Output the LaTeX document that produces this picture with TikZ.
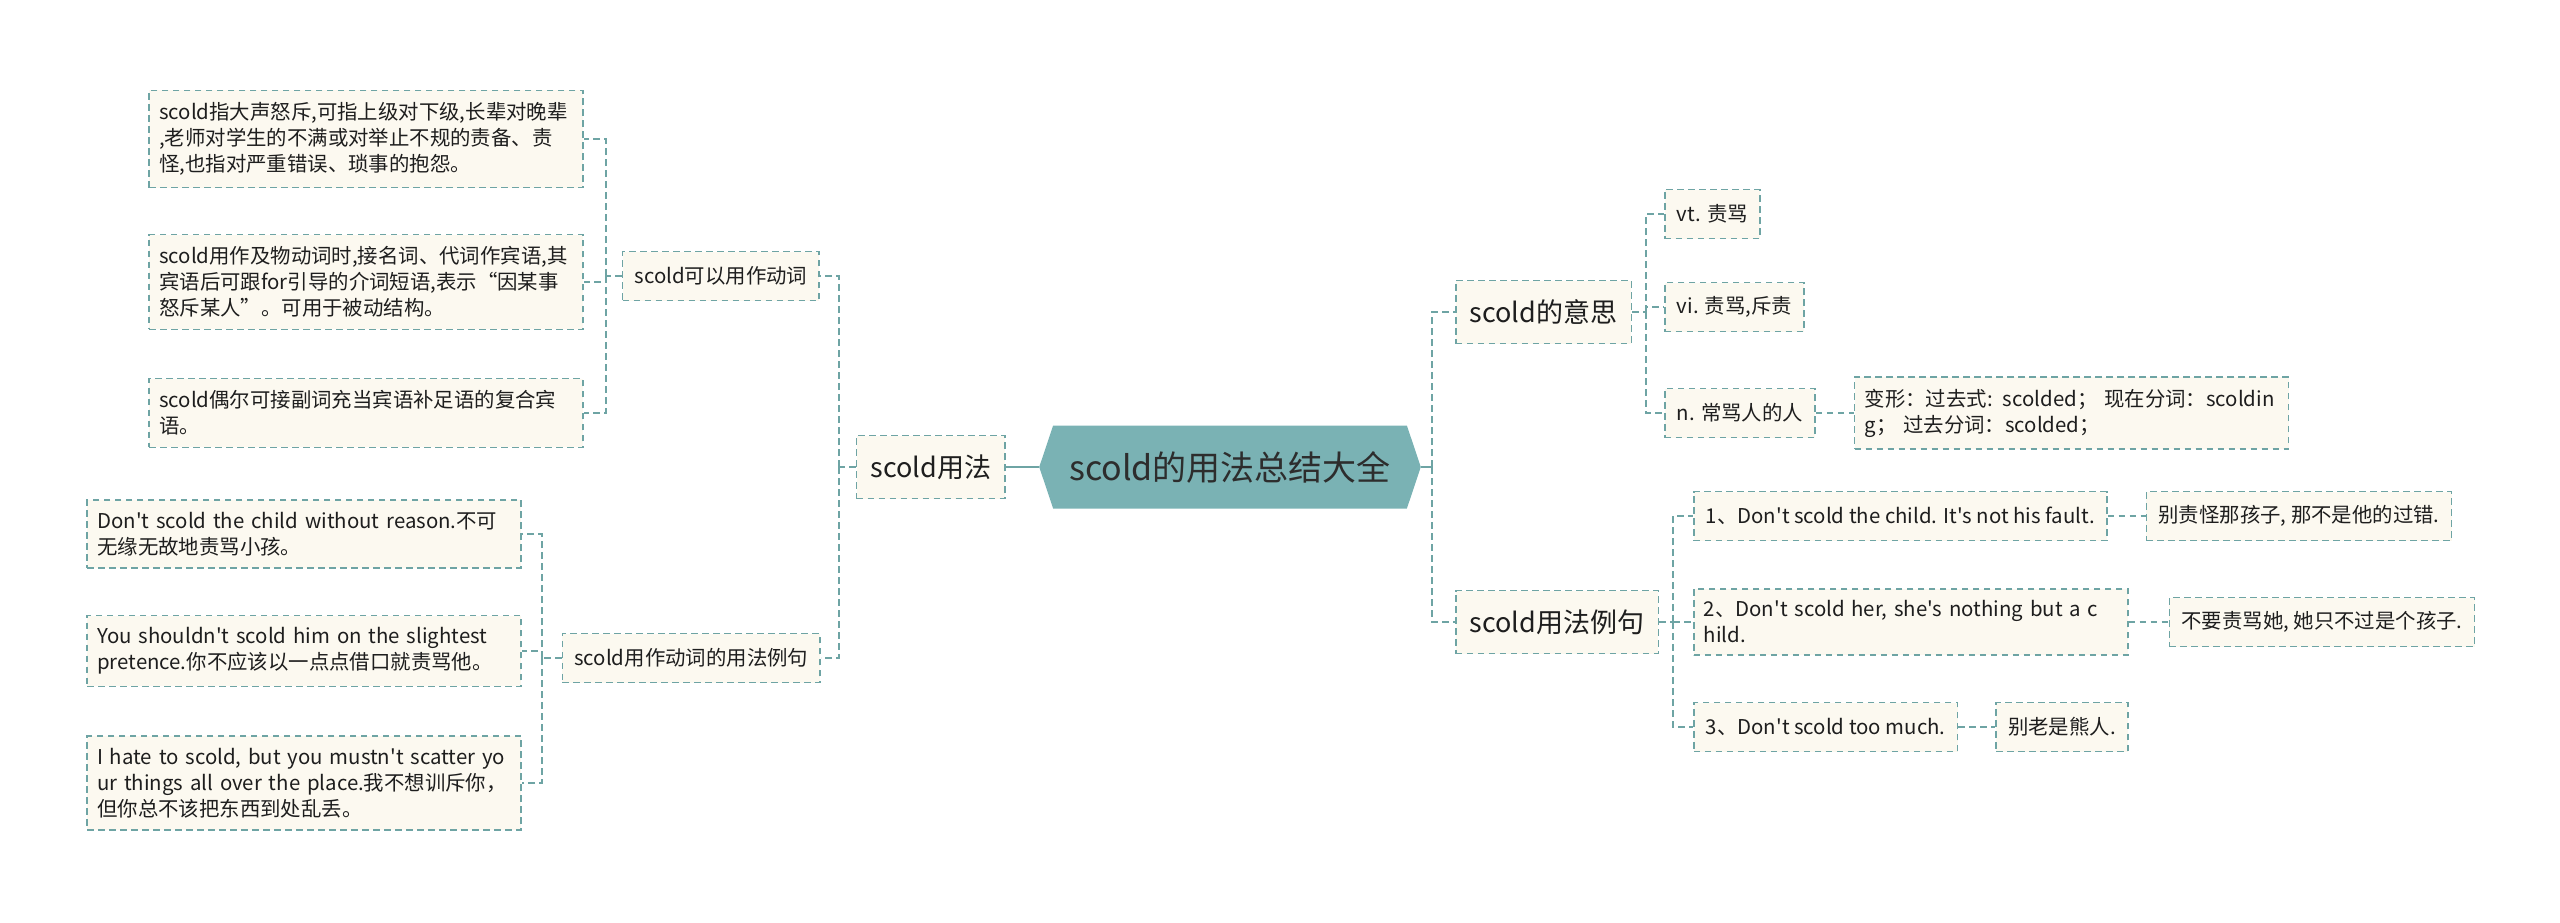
\documentclass[tikz,border=0pt]{standalone}
\usepackage{fontspec}
\setmainfont{Noto Sans CJK SC}[Ligatures=TeXOff]
\usepackage{tikz}
\usetikzlibrary{positioning,shapes.symbols}
\definecolor{mapline}{RGB}{110,164,164}
\definecolor{mapfill}{RGB}{252,249,240}
\definecolor{maproot}{RGB}{122,178,180}
\definecolor{roottext}{RGB}{45,45,45}
\definecolor{maptext}{RGB}{30,30,30}

\begin{document}
\begin{tikzpicture}[
    x=0.5pt, y=-0.5pt,
    font=\fontsize{10.2}{13}\selectfont,
    box/.style={draw=mapline, fill=mapfill, line width=0.8pt, dash pattern=on 3.3pt off 2.2pt, inner xsep=6pt, inner ysep=6pt, minimum height=24.5pt, text=maptext},
    rootbox/.style={signal, signal to=west and east, signal pointer angle=143, fill=maproot, text=roottext, font=\fontsize{17}{20}\selectfont, minimum height=41.5pt, inner xsep=8pt},
    topic/.style={box, font=\fontsize{13.5}{16}\selectfont, minimum height=31.5pt, inner xsep=7pt},
    note/.style={box, inner xsep=5pt, text width=207pt, align=left},
    link/.style={draw=mapline, line width=0.8pt, dash pattern=on 3.3pt off 2.2pt},
    trunk/.style={draw=mapline, line width=1.3pt}
  ]
    \useasboundingbox (0,0) rectangle (2560,922);

    \node[rootbox] (root) at (1230,467) {scold的用法总结大全};

    % left half
    \node[topic, anchor=east] (usage) at (1006,467) {scold用法};
    \node[box, anchor=east] (verbuse) at (820,276) {scold可以用作动词};
    \node[box, anchor=east] (verbex) at (821,658) {scold用作动词的用法例句};

    \node[note, anchor=east] (def1) at (584,139) {scold指大声怒斥,可指上级对下级,长辈对晚辈\\,老师对学生的不满或对举止不规的责备、责\\怪,也指对严重错误、琐事的抱怨。};
    \node[note, anchor=east] (def2) at (584,282) {scold用作及物动词时,接名词、代词作宾语,其\\宾语后可跟for引导的介词短语,表示“因某事\\怒斥某人”。可用于被动结构。};
    \node[note, anchor=east] (def3) at (584,413) {scold偶尔可接副词充当宾语补足语的复合宾\\语。};

    \node[note, anchor=east] (sent1) at (522,534) {Don't scold the child without reason.不可\\无缘无故地责骂小孩。};
    \node[note, anchor=east] (sent2) at (522,651) {You shouldn't scold him on the slightest\\pretence.你不应该以一点点借口就责骂他。};
    \node[note, anchor=east] (sent3) at (522,783) {I hate to scold, but you mustn't scatter yo\\ur things all over the place.我不想训斥你，\\但你总不该把东西到处乱丢。};

    % right half
    \node[topic, anchor=west] (meaning) at (1455,312) {scold的意思};
    \node[topic, anchor=west] (examples) at (1455,622) {scold用法例句};

    \node[box, anchor=west] (vt) at (1664,214) {vt. 责骂};
    \node[box, anchor=west] (vi) at (1664,307) {vi. 责骂,斥责};
    \node[box, anchor=west] (noun) at (1664,413) {n. 常骂人的人};
    \node[note, right=19pt of noun] (forms) {变形：过去式: scolded； 现在分词：scoldin\\g； 过去分词：scolded；};

    \node[box, anchor=west] (ex1) at (1693,516) {1、Don't scold the child. It's not his fault.};
    \node[note, anchor=west] (ex2) at (1693,622) {2、Don't scold her, she's nothing but a c\\hild.};
    \node[box, anchor=west] (ex3) at (1693,727) {3、Don't scold too much.};
    \node[box, right=19pt of ex1] (tr1) {别责怪那孩子, 那不是他的过错.};
    \node[box, right=20pt of ex2] (tr2) {不要责骂她, 她只不过是个孩子.};
    \node[box, right=18.5pt of ex3] (tr3) {别老是熊人.};

    \coordinate (lfork) at (839,467);
    \coordinate (vufork) at (606,276);
    \coordinate (vefork) at (542,658);
    \coordinate (rfork) at (1432,467);
    \coordinate (mfork) at (1646,312);
    \coordinate (efork) at (1673,622);

    \draw[trunk] (root.west) -- (usage.east);
    \draw[link] (usage.west) -- (lfork);
    \draw[link] (lfork) |- (verbuse.east);
    \draw[link] (lfork) |- (verbex.east);
    \draw[link] (verbuse.west) -- (vufork);
    \draw[link] (vufork) |- (def1.east);
    \draw[link] (vufork) |- (def2.east);
    \draw[link] (vufork) |- (def3.east);
    \draw[link] (verbex.west) -- (vefork);
    \draw[link] (vefork) |- (sent1.east);
    \draw[link] (vefork) |- (sent2.east);
    \draw[link] (vefork) |- (sent3.east);

    \draw[trunk] (root.east) -- (rfork);
    \draw[link] (rfork) |- (meaning.west);
    \draw[link] (rfork) |- (examples.west);
    \draw[link] (meaning.east) -- (mfork);
    \draw[link] (mfork) |- (vt.west);
    \draw[link] (mfork) |- (vi.west);
    \draw[link] (mfork) |- (noun.west);
    \draw[link] (noun) -- (forms);
    \draw[link] (examples.east) -- (efork);
    \draw[link] (efork) |- (ex1.west);
    \draw[link] (efork) |- (ex2.west);
    \draw[link] (efork) |- (ex3.west);
    \draw[link] (ex1) -- (tr1);
    \draw[link] (ex2) -- (tr2);
    \draw[link] (ex3) -- (tr3);

  \end{tikzpicture}
\end{document}
